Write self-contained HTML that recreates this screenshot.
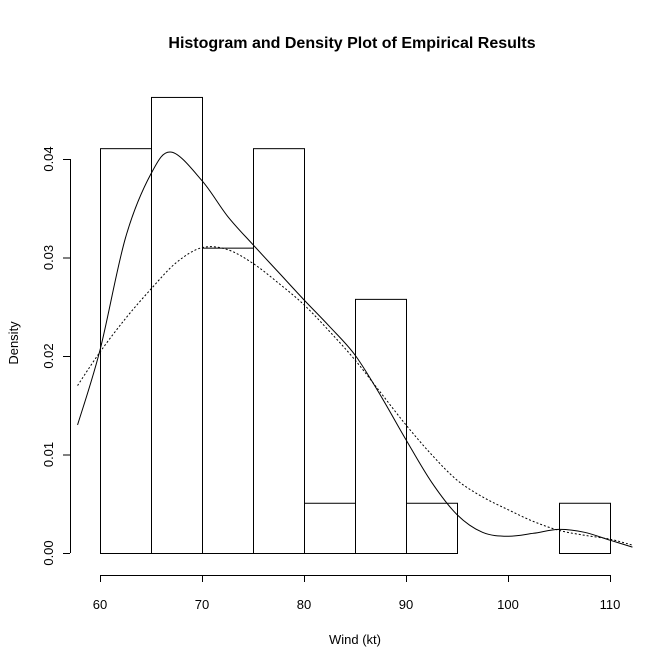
<!DOCTYPE html>
<html><head><meta charset="utf-8"><style>
body{margin:0;background:#fff;}
svg{display:block;font-family:"Liberation Sans",Arial,sans-serif;}
</style></head><body>
<svg id="c" width="672" height="671" viewBox="0 0 672 671">
<rect width="672" height="671" fill="#fff"/>
<text x="352" y="48" text-anchor="middle" font-size="16" font-weight="bold">Histogram and Density Plot of Empirical Results</text>
<text x="355" y="644" text-anchor="middle" font-size="13">Wind (kt)</text>
<text transform="translate(18,343) rotate(-90)" text-anchor="middle" font-size="13">Density</text>
<g id="bars"></g>
<g id="curves"></g>
<g id="xaxis"></g>
<g id="yaxis"></g>
</svg>
<script>
const binEdges=[60,65,70,75,80,85,90,95,100,105,110];
const binDensity=[0.0411,0.0463,0.0310,0.0411,0.0051,0.0258,0.0051,0,0,0.0051];
const solidX=[57.8,60,62.5,65,67,70,72.5,75,77.5,80,82.5,85,87.5,90,92.5,95,97.5,100,102.5,105,107.5,110,112.2];
const solidY=[0.013,0.0206,0.032,0.0385,0.0407,0.0378,0.0342,0.0313,0.0285,0.0257,0.023,0.0201,0.016,0.0115,0.0072,0.0039,0.0021,0.0017,0.002,0.0024,0.0021,0.0013,0.0006];
const dashX=[57.8,60,62.5,65,67.5,70,72.5,75,77.5,80,82.5,85,87.5,90,92.5,95,97.5,100,102.5,105,107.5,110,112.2];
const dashY=[0.0170,0.0204,0.0238,0.0268,0.0295,0.0310,0.0308,0.0294,0.0274,0.0252,0.0225,0.0196,0.0163,0.0130,0.0100,0.0074,0.0057,0.0044,0.0032,0.0023,0.0018,0.0014,0.0008];
const xTicks=[60,70,80,90,100,110];
const yTicks=[0,0.01,0.02,0.03,0.04];
const yTickLabels=["0.00","0.01","0.02","0.03","0.04"];
const NS="http://www.w3.org/2000/svg";
const X=v=>100+(v-60)*10.2;
const Y=v=>553-v*9850;
function mk(tag,attrs,parent){const e=document.createElementNS(NS,tag);for(const k in attrs)e.setAttribute(k,attrs[k]);parent.appendChild(e);return e;}
const bars=document.getElementById('bars');
binDensity.forEach((d,i)=>{
  const r=mk('rect',{x:X(binEdges[i])+0.5,y:Y(d)+0.5,width:X(binEdges[i+1])-X(binEdges[i]),height:Y(0)-Y(d),fill:'none',stroke:'#000','stroke-width':1},bars);
  
  
});
function smooth(xs,ys){
  const p=xs.map((x,i)=>[X(x),Y(ys[i])]);
  let d='M'+p[0][0]+','+p[0][1];
  for(let i=0;i<p.length-1;i++){
    const p0=p[Math.max(0,i-1)],p1=p[i],p2=p[i+1],p3=p[Math.min(p.length-1,i+2)];
    d+=' C'+(p1[0]+(p2[0]-p0[0])/6)+','+(p1[1]+(p2[1]-p0[1])/6)+' '+(p2[0]-(p3[0]-p1[0])/6)+','+(p2[1]-(p3[1]-p1[1])/6)+' '+p2[0]+','+p2[1];
  }
  return d;
}
const curves=document.getElementById('curves');
const s=mk('path',{d:smooth(solidX,solidY),fill:'none',stroke:'#000','stroke-width':1},curves);


const dl=mk('path',{d:smooth(dashX,dashY),fill:'none',stroke:'#000','stroke-width':1,'stroke-dasharray':'2,2'},curves);


const xa=document.getElementById('xaxis');
mk('line',{x1:X(xTicks[0]),x2:X(xTicks[xTicks.length-1]),y1:575.5,y2:575.5,stroke:'#000'},xa);
xTicks.forEach(t=>{
  mk('line',{x1:X(t)+0.5,x2:X(t)+0.5,y1:575,y2:582,stroke:'#000'},xa);
  const tx=mk('text',{x:X(t),y:609,'text-anchor':'middle','font-size':13},xa);
  tx.textContent=t;
  
  
});
const ya=document.getElementById('yaxis');
mk('line',{x1:70.5,x2:70.5,y1:Y(yTicks[yTicks.length-1]),y2:Y(yTicks[0]),stroke:'#000'},ya);
yTicks.forEach((t,i)=>{
  mk('line',{x1:63,x2:70,y1:Y(t)+0.5,y2:Y(t)+0.5,stroke:'#000'},ya);
  const tx=mk('text',{transform:'translate(53,'+Y(t)+') rotate(-90)','text-anchor':'middle','font-size':13},ya);
  tx.textContent=yTickLabels[i];
  
  
});
</script>
</body></html>
